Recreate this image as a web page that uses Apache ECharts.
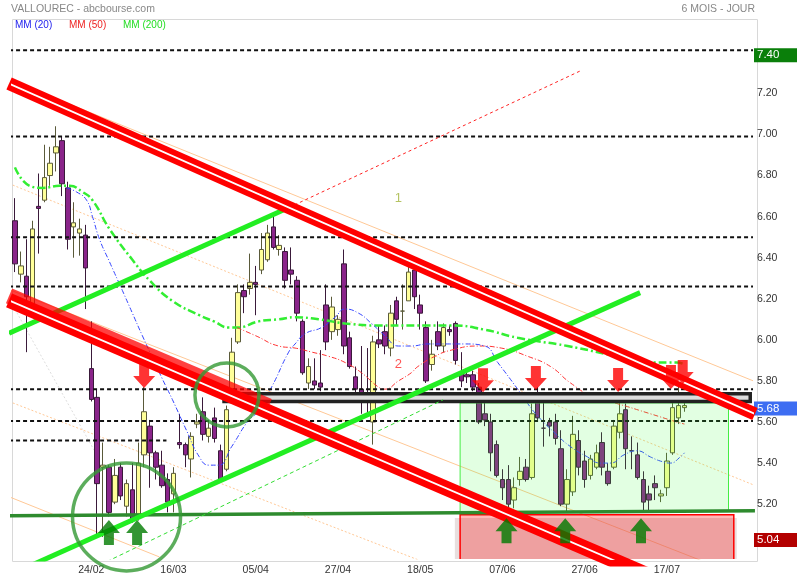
<!DOCTYPE html>
<html><head><meta charset="utf-8">
<script src="https://cdn.jsdelivr.net/npm/echarts@6/dist/echarts.min.js"></script>
<style>html,body{margin:0;padding:0;background:#fff}#c{width:800px;height:580px}</style>
</head><body><div id="c"></div>
<script>
// ---------------- data ----------------
const opens = [6.58,6.32,6.31,6.17,6.65,6.68,6.80,6.91,6.97,6.74,
 6.55,6.52,6.51,5.86,5.72,5.38,5.38,5.21,5.38,5.19,
 5.27,5.14,5.44,5.58,5.45,5.39,5.32,5.25,5.50,5.49,
 5.42,5.59,5.65,5.53,5.62,5.46,5.37,5.76,5.99,6.24,
 6.25,6.28,6.34,6.39,6.55,6.44,6.43,6.34,6.29,6.09,
 5.79,5.80,5.79,6.17,6.04,6.05,6.37,6.01,5.82,5.76,
 5.73,5.60,6.00,6.04,5.96,6.19,6.14,6.19,6.34,6.17,
 6.06,5.88,6.04,5.97,6.05,6.08,5.84,5.83,5.83,5.77,
 5.64,5.60,5.49,5.32,5.32,5.22,5.32,5.38,5.33,5.71,
 5.57,5.60,5.60,5.47,5.20,5.26,5.51,5.41,5.34,5.38,
 5.50,5.36,5.38,5.55,5.66,5.46,5.44,5.32,5.25,5.30,
 5.24,5.28,5.45,5.62,5.67];
const closes = [6.37,6.36,6.21,6.54,6.64,6.79,6.86,6.94,6.76,6.49,
 6.57,6.54,6.35,5.71,5.30,5.39,5.16,5.34,5.24,5.30,
 5.12,5.40,5.65,5.45,5.38,5.29,5.21,5.35,5.49,5.44,
 5.53,5.60,5.54,5.57,5.52,5.32,5.66,5.94,6.23,6.21,
 6.28,6.27,6.44,6.52,6.45,6.46,6.29,6.32,6.13,5.84,
 5.87,5.78,5.77,5.99,6.16,6.10,5.97,5.87,5.76,5.71,
 5.72,5.99,5.98,5.97,6.13,6.10,6.14,6.33,6.21,6.13,
 5.80,5.93,5.97,6.06,6.04,5.90,5.80,5.82,5.77,5.60,
 5.61,5.45,5.34,5.28,5.20,5.28,5.36,5.32,5.64,5.62,
 5.57,5.58,5.52,5.20,5.32,5.54,5.38,5.32,5.42,5.45,
 5.38,5.30,5.58,5.64,5.47,5.46,5.33,5.21,5.22,5.28,
 5.25,5.41,5.67,5.68,5.68];
const lows = [6.33,6.28,5.94,6.15,6.42,6.67,6.75,6.82,6.70,6.44,
 6.40,6.41,6.15,5.70,5.04,5.04,5.14,5.20,5.22,5.14,
 5.11,5.12,5.38,5.28,5.32,5.28,5.16,5.16,5.47,5.38,
 5.33,5.57,5.51,5.50,5.50,5.31,5.36,5.73,5.98,6.13,
 6.22,6.12,6.32,6.38,6.44,6.41,6.25,6.27,6.09,5.83,
 5.76,5.76,5.75,5.95,6.00,6.02,5.93,5.86,5.73,5.64,
 5.64,5.49,5.96,5.93,5.92,6.07,6.05,6.19,6.15,6.05,
 5.79,5.85,5.95,5.94,6.02,5.88,5.77,5.79,5.75,5.59,
 5.58,5.36,5.33,5.22,5.16,5.18,5.29,5.31,5.32,5.61,
 5.48,5.53,5.49,5.19,5.16,5.24,5.34,5.28,5.32,5.37,
 5.34,5.29,5.37,5.52,5.37,5.37,5.32,5.16,5.17,5.22,
 5.21,5.24,5.44,5.59,5.65];
const highs = [6.69,6.43,6.49,6.58,6.81,6.95,6.94,7.04,6.99,6.77,
 6.67,6.59,6.56,6.09,5.76,5.50,5.39,5.42,5.40,5.32,
 5.40,5.50,5.77,5.61,5.46,5.46,5.35,5.38,5.64,5.50,
 5.55,5.64,5.72,5.61,5.67,5.49,5.68,6.01,6.27,6.27,
 6.42,6.36,6.52,6.56,6.61,6.51,6.45,6.45,6.31,6.10,
 5.91,5.91,5.95,6.27,6.21,6.12,6.44,6.04,5.87,5.97,
 5.96,6.02,6.07,6.07,6.17,6.21,6.27,6.38,6.38,6.22,
 6.09,6.00,6.09,6.08,6.07,6.09,5.94,5.85,5.85,5.79,
 5.72,5.64,5.51,5.37,5.39,5.33,5.43,5.42,5.69,5.77,
 5.72,5.62,5.64,5.56,5.37,5.63,5.56,5.46,5.44,5.49,
 5.55,5.40,5.61,5.71,5.69,5.53,5.50,5.36,5.29,5.34,
 5.27,5.45,5.72,5.80,5.74];

const slotCount = 126;                 // trading-day slots on the x axis
const tickIdx  = [13, 27, 41, 55, 69, 83, 97, 111];
const tickText = ['24/02','16/03','05/04','27/04','18/05','07/06','27/06','17/07'];
const yLabelValues = [5.00, 5.04, 5.20, 5.40, 5.60, 5.68, 5.80, 6.00, 6.20, 6.40, 6.60, 6.80, 7.00, 7.20, 7.40];
const boxLevels = [7.40, 5.68, 5.04];

// moving averages: [slot, value]
const ma20 = [[8.8,6.74],[10.5,6.72],[12.2,6.68],[13.2,6.60],[14.4,6.49],[16.1,6.38],[18.3,6.24],[20.0,6.13],[21.7,6.02],
 [25.1,5.81],[26.8,5.71],[29.2,5.56],[31.4,5.43],[33.0,5.39],[34.7,5.39],[36.9,5.48],[39.8,5.61],[41.0,5.64],[43.7,5.77],
 [46.6,5.94],[47.7,5.98],[49.4,6.03],[52.2,6.06],[54.5,6.11],[56.2,6.15],[58.5,6.13],[60.7,6.08],[63.0,6.02],[65.3,5.97],
 [67.5,5.97],[70.3,5.98],[73.7,5.98],[76.6,5.98],[80.0,5.97],[82.2,5.89],[85.6,5.76],[87.3,5.69],[89.0,5.63],[91.8,5.55],
 [94.6,5.48],[97.5,5.43],[99.7,5.40],[101.4,5.40],[103.7,5.44],[105.9,5.46],[108.2,5.43],[109.9,5.41],[111.6,5.40],[113.3,5.43],[114,5.45]];
const ma50 = [[37.8,6.06],[41.0,6.02],[44.9,5.97],[47.7,5.96],[50.6,5.94],[53.4,5.92],[56.2,5.89],[59.0,5.84],[61.9,5.77],
 [63.0,5.76],[65.3,5.80],[67.5,5.84],[68.6,5.87],[71.5,5.92],[74.3,5.95],[78.8,5.97],[82.8,5.96],[87.3,5.92],[91.2,5.87],
 [94.6,5.79],[98.6,5.72],[102.5,5.69],[108.2,5.64],[112.7,5.60],[114,5.59]];
const ma200 = [[0,6.84],[2.5,6.75],[4.7,6.74],[7.6,6.75],[9.3,6.75],[11.5,6.72],[13.2,6.68],[16.1,6.54],[20.0,6.39],
 [22.9,6.29],[26.8,6.19],[31.4,6.12],[33.9,6.09],[36.4,6.06],[37.8,6.06],[41.5,6.09],[44.9,6.10],[47.7,6.11],[51.7,6.10],
 [56.2,6.08],[61.9,6.07],[70.3,6.07],[74.2,6.07],[79.9,6.05],[85.6,6.01],[94.1,5.97],[102.5,5.92],[108.1,5.89],[112.7,5.89],[114,5.88]];

// drawn annotations, in [slot, price]
const hLevels = [7.41, 6.99, 6.50, 6.26, 5.76, 5.605];
const shortLevel = [[-1, 5.51], [25.8, 5.51]];
const redUpper = [[-1, 7.248], [126, 5.639]];
const redLower = [[-1, 6.192], [126, 4.631]];
const redLowerLeft = [[-1, 6.214], [43.2, 5.676]];
const greenA = [[-1, 6.032], [47.6, 6.657]];
const greenAProj = [[47.6, 6.657], [96.6, 7.314]];
const greenB = [[3, 4.905], [106.45, 6.230]];
const greenBDash = [[14.6, 4.906], [72.9, 5.708]];
const baseLine = [[-1, 5.143], [126, 5.168]];
const peachSolid1 = [[-1, 7.267], [126, 5.797]];
const peachDot1 = [[-1, 6.761], [126, 5.291]];
const peachSolid2 = [[-1, 6.245], [126, 4.823]];
const peachDot2 = [[-1, 5.700], [68.65, 4.929]];
const peachSolid3 = [[-1, 5.236], [24.6, 4.943]];
const faintLine = [[-1, 6.200], [14.4, 5.416]];
const greenZone = [75.8, 5.693, 121.5, 5.164];
const redZone = [75.8, 5.148, 122.4, 4.80];
const redZoneShade = [74.9, 5.133, 122.9, 4.80];
const grayBand = [35.6, 5.738, 125.2, 5.700];
const downArrows = [[22.0,5.766],[79.7,5.745],[88.7,5.756],[102.7,5.746],[111.7,5.761],[113.7,5.785]];
const upArrows = [[16.0,5.123],[20.8,5.123],[83.7,5.132],[93.7,5.132],[106.6,5.132]];
const circles = [[19.0,5.138,108],[36.1,5.732,64]];
const notes = [['1',65.3,6.691,'#a3b43c'],['2',65.3,5.878,'#ff2a2a']];

// ---------------- chart ----------------
const chart = echarts.init(document.getElementById('c'), null, {renderer:'canvas'});
const cats = Array.from({length: slotCount}, (_, i) => String(i));
const candles = cats.map((c, i) => i < opens.length ? [opens[i], closes[i], lows[i], highs[i]] : '-');
const FONT = 'Liberation Sans, Arial, sans-serif';

function seg(data, lineStyle, z) {
  return {type:'line', xAxisIndex:1, yAxisIndex:0, data, symbol:'none', silent:true, z, lineStyle, animation:false};
}
function rectSeries(box, style, z) {
  return {type:'custom', xAxisIndex:1, yAxisIndex:0, z, silent:true, clip:true, data:[box],
    renderItem:(p, api) => {
      const a = api.coord([api.value(0), api.value(1)]);
      const b = api.coord([api.value(2), api.value(3)]);
      return {type:'rect', shape:{x:Math.min(a[0],b[0]), y:Math.min(a[1],b[1]), width:Math.abs(b[0]-a[0]), height:Math.abs(b[1]-a[1])}, style};
    }};
}
const series = [];
// thin peach guide lines
const peach = '#ffc896';
series.push(seg(faintLine, {color:'#dddddd', width:1, type:[2,2]}, 1));
series.push(seg(peachSolid1, {color:peach, width:1}, 1));
series.push(seg(peachDot1, {color:peach, width:1, type:[2,2]}, 1));
series.push(seg(peachSolid2, {color:peach, width:1}, 1));
series.push(seg(peachDot2, {color:peach, width:1, type:[2,2]}, 1));
series.push(seg(peachSolid3, {color:peach, width:1}, 1));
// candles
series.push({type:'candlestick', xAxisIndex:0, yAxisIndex:0, data:candles, barWidth:5, z:2, silent:true,
  itemStyle:{color:'#ffff99', color0:'#8a248a', borderColor:'#5a5a3a', borderColor0:'#3a1a3a', borderWidth:1}});
// moving averages
const ma200S = seg(ma200, {color:'#33ee33', width:2.5, type:[8,3,2,3]}, 4); ma200S.smooth = true;
const ma50S = seg(ma50, {color:'#ff3333', width:1, type:[5,2,1,2]}, 4); ma50S.smooth = true;
const ma20S = seg(ma20, {color:'#3344ff', width:1, type:[5,2,1,2]}, 4); ma20S.smooth = true;
series.push(ma200S, ma50S, ma20S);
// horizontal dashed levels
hLevels.forEach(v => series.push(seg([[-1, v], [126, v]], {color:'#111', width:2, type:[4,3]}, 5)));
series.push(seg(shortLevel, {color:'#111', width:2, type:[4,3]}, 5));
// zones
series.push(rectSeries(greenZone, {fill:'rgba(60,255,60,0.15)', stroke:'#44ee44', lineWidth:1}, 6));
series.push(rectSeries(redZoneShade, {fill:'rgba(190,160,160,0.35)'}, 6));
series.push(rectSeries(redZone, {fill:'rgba(255,0,0,0.28)', stroke:'#ff0000', lineWidth:1.5}, 6));
series.push(rectSeries(grayBand, {fill:'#dddddd', stroke:'#222222', lineWidth:3.5}, 7));
// trend lines
series.push(seg(baseLine, {color:'#2e8b2e', width:3.5}, 8));
series.push(seg(greenBDash, {color:'#33dd33', width:1, type:[4,3]}, 8));
series.push(seg(greenAProj, {color:'#ff2222', width:1, type:[3,3]}, 8));
series.push(seg(greenA, {color:'#22ee22', width:5}, 8));
series.push(seg(greenB, {color:'#22ee22', width:5}, 8));
series.push(seg(redLowerLeft, {color:'rgba(255,0,0,0.75)', width:16}, 9));
series.push(seg(redLower, {color:'#ff0000', width:15}, 9));
series.push(seg(redLower, {color:'#ffffff', width:1.8}, 9));
series.push(seg(redUpper, {color:'#ff0000', width:13}, 9));
series.push(seg(redUpper, {color:'#ffffff', width:1.8}, 9));
// circles
series.push({type:'scatter', xAxisIndex:1, yAxisIndex:0, silent:true, z:10, symbol:'circle',
  data: circles.map(c => ({value:[c[0], c[1]], symbolSize:c[2]})),
  itemStyle:{color:'rgba(0,0,0,0)', borderColor:'#339933', borderWidth:3.5}});
// arrows
series.push({type:'scatter', xAxisIndex:1, yAxisIndex:0, silent:true, z:10, data:downArrows,
  symbol:'path://M6,0L16,0L16,12L22,12L11,24L0,12L6,12Z', symbolSize:[22,24], symbolOffset:[0,-12],
  itemStyle:{color:'#ff0000'}});
series.push({type:'scatter', xAxisIndex:1, yAxisIndex:0, silent:true, z:10, data:upArrows,
  symbol:'path://M11,0L22,13L16,13L16,25L6,25L6,13L0,13Z', symbolSize:[22,25], symbolOffset:[0,12.5],
  itemStyle:{color:'#007a00'}});
// numbered notes
series.push({type:'scatter', xAxisIndex:1, yAxisIndex:0, silent:true, z:11, symbolSize:1,
  itemStyle:{color:'rgba(0,0,0,0)'},
  data: notes.map(n => ({value:[n[1], n[2]], label:{show:true, formatter:n[0], position:'inside', color:n[3], fontSize:13, fontFamily:FONT}}))});

function isBox(v){ return boxLevels.findIndex(b => Math.abs(b - v) < 1e-6); }
const boxStyle = (bg) => ({color:'#fff', fontSize:11.5, backgroundColor:bg, width:36, height:14, lineHeight:14, padding:[0,4,0,3], fontFamily:FONT});

chart.setOption({
  animation:false,
  textStyle:{fontFamily:FONT},
  title:[
    {text:'VALLOUREC - abcbourse.com', left:11, top:4, padding:0, textStyle:{fontSize:10.5, color:'#888', fontWeight:'normal', fontFamily:FONT}},
    {text:'6 MOIS - JOUR', right:45, top:4, padding:0, textStyle:{fontSize:10.5, color:'#888', fontWeight:'normal', fontFamily:FONT}},
    {text:'MM (20)', left:15, top:20, padding:0, textStyle:{fontSize:10, color:'#2222ee', fontWeight:'normal', fontFamily:FONT}},
    {text:'MM (50)', left:69, top:20, padding:0, textStyle:{fontSize:10, color:'#ee2222', fontWeight:'normal', fontFamily:FONT}},
    {text:'MM (200)', left:123, top:20, padding:0, textStyle:{fontSize:10, color:'#22dd22', fontWeight:'normal', fontFamily:FONT}}
  ],
  graphic:[{type:'rect', left:10, top:17, shape:{width:745, height:542}, style:{fill:'none', stroke:'#d8d8d8', lineWidth:1}, silent:true, z:0}],
  grid:{left:12, top:17, width:743.4, height:542, show:false},
  xAxis:[
    {type:'category', data:cats, boundaryGap:true, axisLine:{show:false}, axisTick:{show:false}, splitLine:{show:false},
     axisLabel:{interval:(idx) => tickIdx.includes(idx), formatter:(v) => { const k = tickIdx.indexOf(Number(v)); return k >= 0 ? tickText[k] : ''; },
       color:'#333', fontSize:10.5, margin:6, fontFamily:FONT}},
    {type:'value', min:-0.5, max:slotCount - 0.5, show:false}
  ],
  yAxis:[{type:'value', position:'right', min:4.933, max:7.572, scale:true,
    axisLine:{show:false}, axisTick:{show:false}, splitLine:{show:false},
    axisLabel:{customValues:yLabelValues, margin:2, align:'left',
      formatter:(v) => { const s = v.toFixed(2); const k = isBox(v);
        if (k < 0) return '{n|'+s+'}';
        return '{sp| }\n{' + ['g','b','r'][k] + '|' + s + '}'; },
      rich:{
        n:{color:'#333', fontSize:10.5, padding:[0,0,0,3], fontFamily:FONT},
        sp:{fontSize:1, height:6, lineHeight:6},
        g:boxStyle('#0a7f0a'),
        b:boxStyle('#3d6df2'),
        r:boxStyle('#b30000')
      }}}],
  series
});
</script></body></html>
